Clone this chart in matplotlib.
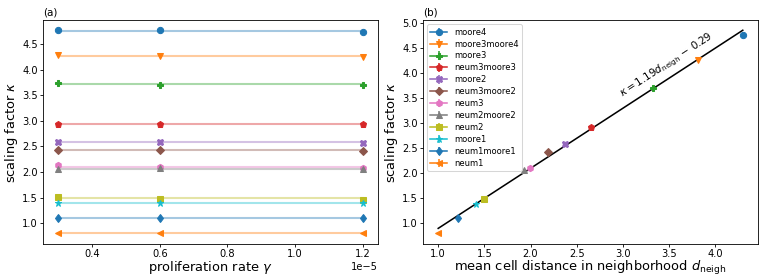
import numpy as np
import matplotlib
matplotlib.use('Agg')
import matplotlib.pyplot as plt

# proliferation rates
gamma = [0.3e-5, 0.6e-5, 1.2e-5]

names = ['moore4', 'moore3moore4', 'moore3', 'neum3moore3', 'moore2', 'neum3moore2',
         'neum3', 'neum2moore2', 'neum2', 'moore1', 'neum1moore1', 'neum1']
markers = ['o', 'v', 'P', 'p', 'X', 'D', 'h', '^', 's', '*', 'd', '<']

# scaling factor kappa for each neighborhood at the three proliferation rates
kappa_moore4 = [4.77, 4.77, 4.74]
kappa_moore3moore4 = [4.28, 4.27, 4.25]
kappa_moore3 = [3.73, 3.70, 3.70]
kappa_neum3moore3 = [2.93, 2.93, 2.93]
kappa_moore2 = [2.58, 2.59, 2.57]
kappa_neum3moore2 = [2.43, 2.43, 2.41]
kappa_neum3 = [2.13, 2.10, 2.08]
kappa_neum2moore2 = [2.06, 2.08, 2.06]
kappa_neum2 = [1.51, 1.48, 1.46]
kappa_moore1 = [1.39, 1.39, 1.39]
kappa_neum1moore1 = [1.10, 1.11, 1.10]
kappa_neum1 = [0.80, 0.80, 0.80]

kappas = [kappa_moore4, kappa_moore3moore4, kappa_moore3, kappa_neum3moore3, kappa_moore2,
          kappa_neum3moore2, kappa_neum3, kappa_neum2moore2, kappa_neum2, kappa_moore1,
          kappa_neum1moore1, kappa_neum1]

# mean cell distance in neighborhood
d_neigh = [4.30, 3.82, 3.33, 2.66, 2.37, 2.19, 1.99, 1.93, 1.50, 1.41, 1.21, 1.00]

cols = plt.rcParams['axes.prop_cycle'].by_key()['color']

fig, (ax1, ax2) = plt.subplots(1, 2, figsize=(769 / 75, 279 / 75), dpi=75)
plt.subplots_adjust(left=0.056, right=0.9857, top=0.928, bottom=0.127, wspace=0.134)

for i, name in enumerate(names):
    c = cols[i % len(cols)]
    k = np.array(kappas[i])
    m = k.mean()
    ax1.plot(gamma, [m] * len(gamma), '-', color=c, alpha=0.4, lw=2)
    ax1.plot(gamma, k, markers[i], color=c, ms=6)
    ax2.errorbar(d_neigh[i], m, yerr=k.std(), fmt=markers[i] + '-', color=c, ms=6, label=name)

p = np.polyfit(d_neigh, [np.mean(k) for k in kappas], 1)
xx = np.array([min(d_neigh), max(d_neigh)])
ax2.plot(xx, np.polyval(p, xx), 'k-', lw=1.5, zorder=1)
ax2.text(3.0, 3.53, r'$\kappa = 1.19d_\mathrm{neigh}\,-\,0.29$',
         rotation=33, fontsize=10, rotation_mode='anchor')

ax1.set_xlabel(r'proliferation rate $\gamma$', fontsize=12.5, labelpad=0)
ax1.set_ylabel(r'scaling factor $\kappa$', fontsize=12.5, labelpad=2)
ax1.set_title('(a)', loc='left', fontsize=10, pad=4)
ax2.set_xlabel(r'mean cell distance in neighborhood $d_\mathrm{neigh}$', fontsize=12.5, labelpad=0)
ax2.set_ylabel(r'scaling factor $\kappa$', fontsize=12.5, labelpad=2)
ax2.set_title('(b)', loc='left', fontsize=10, pad=4)
ax2.legend(loc='upper left', fontsize=8, labelspacing=0.35)

for ax in (ax1, ax2):
    ax.tick_params(labelsize=9.5, pad=2, length=3)
ax1.xaxis.get_offset_text().set_fontsize(9.5)

plt.savefig('out.png', dpi=75)
